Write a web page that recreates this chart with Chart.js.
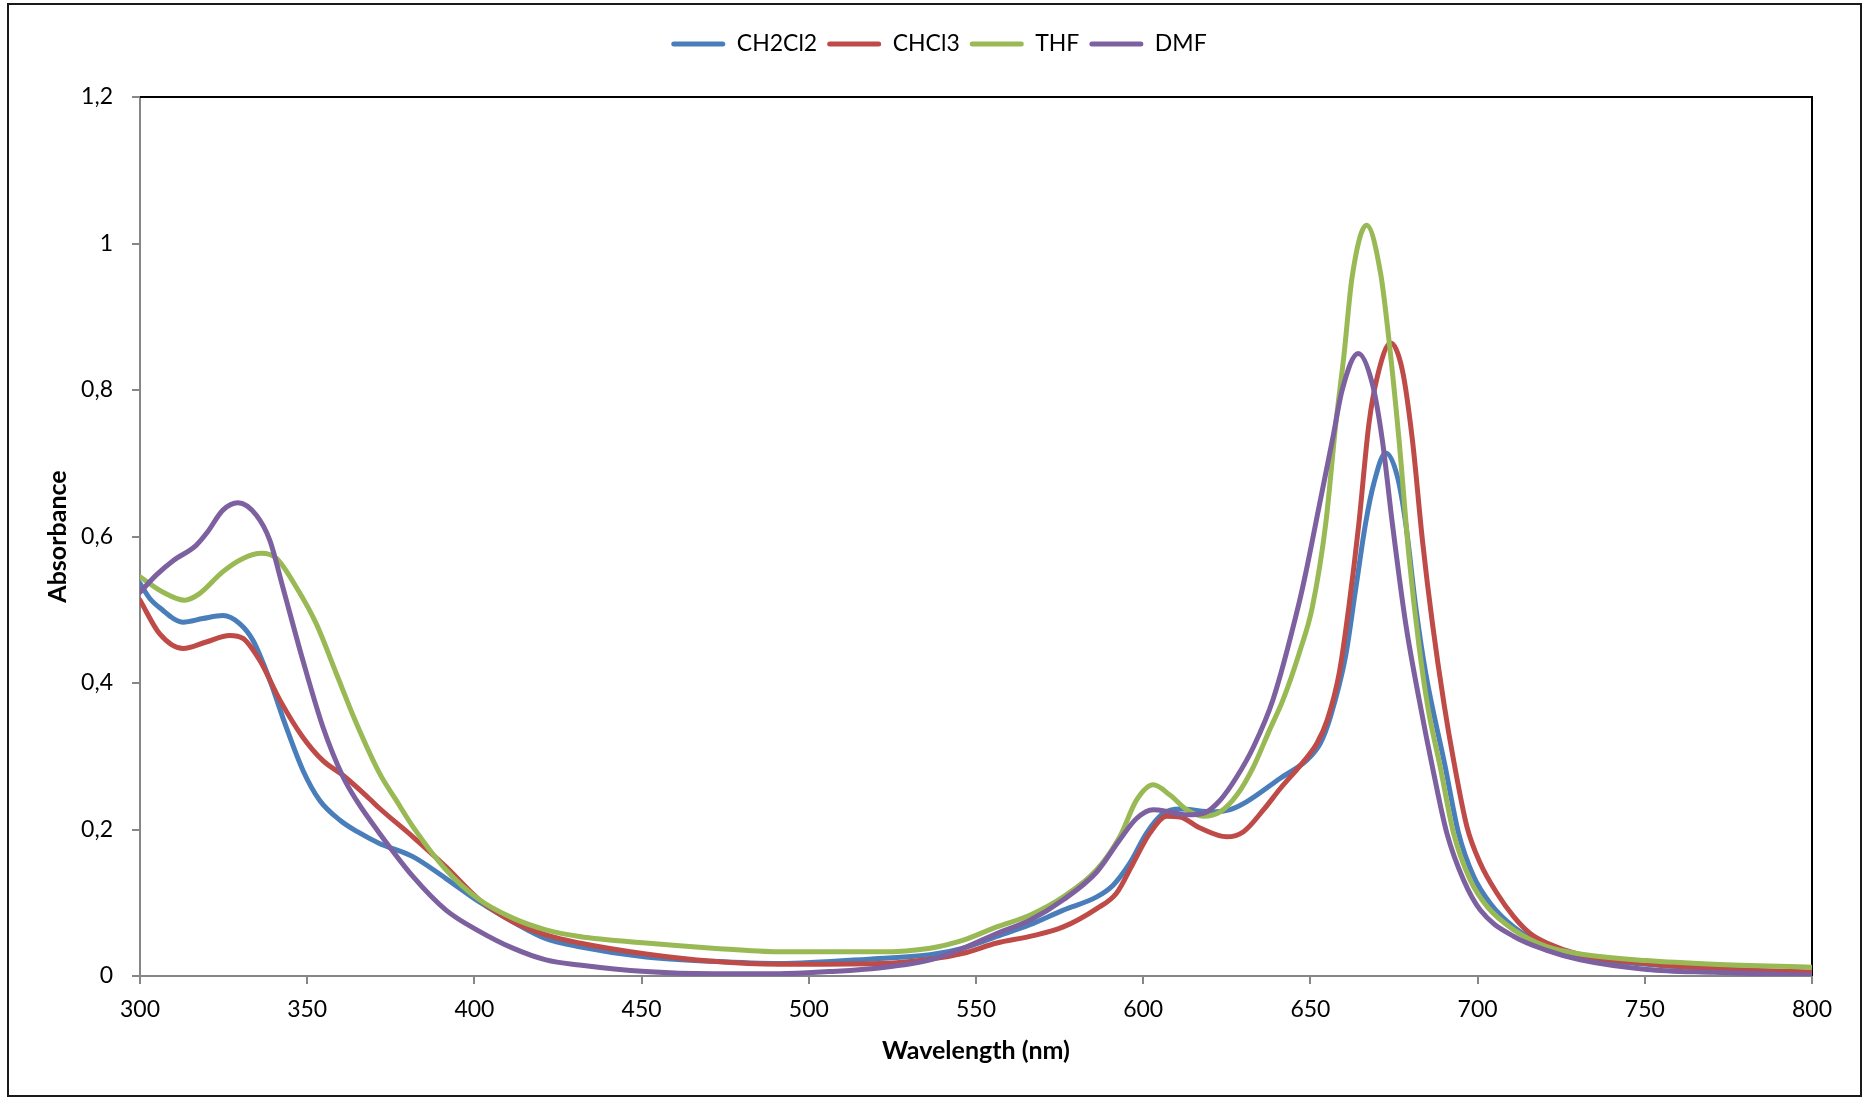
<!DOCTYPE html>
<html>
<head>
<meta charset="utf-8">
<title>Absorbance spectra in different solvents</title>
<script src="https://cdn.jsdelivr.net/npm/chart.js@4/dist/chart.umd.min.js"></script>
<style>
  html, body { margin: 0; padding: 0; background: #ffffff; }
  #wrap { width: 1865px; height: 1099px; }
</style>
</head>
<body>
<div id="wrap"><canvas id="spectra" width="1865" height="1099"></canvas></div>
<script>
// Solvent series names
const seriesNames = ['CH2Cl2', 'CHCl3', 'THF', 'DMF'];
const seriesColors = ['#4a7ebb', '#be4b48', '#98b954', '#7d60a0'];

// Axis tick labels (decimal comma)
const xTickLabels = ['300', '350', '400', '450', '500', '550', '600', '650', '700', '750', '800'];
const yTickLabels = ['0', '0,2', '0,4', '0,6', '0,8', '1', '1,2'];

// CH2Cl2: wavelength (nm) and absorbance
const ch2cl2Nm = [300, 303, 306.9, 310, 312.9, 318.8, 324.8, 329.8, 333.8, 338.8, 343.7, 348.7, 353.7, 360, 365,
  371.6, 381.6, 391.5, 401.5, 411.5, 421.4, 431.4, 451.3, 471.2, 491.1, 521, 536.3, 546.2, 556.2, 566.1, 576.1,
  586.1, 591, 596, 601, 606, 611, 621, 626, 631, 641, 649, 653, 656, 660.5, 663.5, 666.5, 669, 672.5, 676,
  678.5, 681.5, 684.5, 690.3, 694.3, 698.8, 703.8, 710.8, 720.7, 730.7, 750.6, 770.5, 800];
const ch2cl2Abs = [0.536, 0.515, 0.499, 0.488, 0.483, 0.488, 0.492, 0.481, 0.458, 0.404, 0.340, 0.281, 0.240, 0.212, 0.197,
  0.181, 0.163, 0.133, 0.101, 0.074, 0.051, 0.040, 0.026, 0.020, 0.017, 0.024, 0.029, 0.038, 0.054, 0.070, 0.090,
  0.108, 0.124, 0.154, 0.195, 0.222, 0.228, 0.224, 0.227, 0.238, 0.270, 0.295, 0.318, 0.354, 0.436, 0.527, 0.618, 0.673, 0.714, 0.682,
  0.618, 0.504, 0.413, 0.286, 0.195, 0.136, 0.099, 0.067, 0.040, 0.026, 0.016, 0.010, 0.005];

// CHCl3
const chcl3Nm = [300, 305.9, 312.9, 319.8, 326.8, 330.8, 335.8, 341.8, 348.7, 354.7, 360.7, 368.6, 371.6, 381.6, 391.5,
  401.5, 411.5, 421.4, 431.4, 451.3, 471.2, 491.1, 521, 536.3, 546.2, 556.2, 566.1, 576.1, 586.1, 592, 597, 602,
  607, 611, 617, 625, 630, 636, 641, 648, 652, 655, 658.6, 661.5, 664.5, 667.5, 670, 674, 677.5, 680.5, 683.5,
  686.5, 690, 692.8, 696.8, 700.8, 705.8, 710.8, 715.7, 720.7, 730.7, 750.6, 770.5, 800];
const chcl3Abs = [0.513, 0.467, 0.447, 0.456, 0.465, 0.461, 0.431, 0.377, 0.326, 0.294, 0.274, 0.242, 0.229, 0.190, 0.149,
  0.104, 0.074, 0.056, 0.045, 0.030, 0.020, 0.016, 0.017, 0.023, 0.031, 0.045, 0.054, 0.067, 0.092, 0.113, 0.154, 0.195,
  0.218, 0.217, 0.202, 0.190, 0.197, 0.227, 0.256, 0.293, 0.318, 0.349, 0.413, 0.504, 0.618, 0.754, 0.818, 0.864, 0.827, 0.732, 0.595,
  0.481, 0.370, 0.295, 0.204, 0.154, 0.113, 0.081, 0.058, 0.045, 0.029, 0.017, 0.010, 0.005];

// THF
const thfNm = [300, 306.9, 313.4, 317.8, 324.8, 330.8, 336.3, 340.8, 346.7, 352.7, 358.7, 364.7, 371.6, 376.6, 381.6,
  391.5, 401.5, 411.5, 421.4, 431.4, 451.3, 471.2, 491.1, 521, 536.3, 546.2, 556.2, 566.1, 576.1, 586.1, 593, 598,
  603, 608, 613, 618, 623, 628, 633, 637.8, 641.8, 646.6, 650.6, 654.6, 657.6, 660, 662.5, 666.8, 671, 673.5,
  676.5, 679.5, 682.5, 685.2, 688.8, 692.8, 697.8, 702.8, 710.8, 720.7, 730.7, 750.6, 770.5, 800];
const thfAbs = [0.545, 0.524, 0.513, 0.522, 0.552, 0.570, 0.577, 0.570, 0.531, 0.481, 0.413, 0.345, 0.277, 0.240, 0.204,
  0.145, 0.104, 0.079, 0.063, 0.054, 0.045, 0.038, 0.033, 0.033, 0.038, 0.049, 0.067, 0.083, 0.108, 0.145, 0.190, 0.240,
  0.261, 0.247, 0.227, 0.218, 0.224, 0.247, 0.286, 0.336, 0.377, 0.440, 0.504, 0.618, 0.754, 0.846, 0.955, 1.025, 0.959, 0.868,
  0.732, 0.572, 0.450, 0.365, 0.286, 0.195, 0.131, 0.095, 0.063, 0.040, 0.030, 0.021, 0.016, 0.012];

// DMF
const dmfNm = [300, 305, 309.9, 316.8, 320, 324.8, 329.3, 334.8, 338.8, 342.7, 348.7, 354.7, 360.7, 364.7, 371.6,
  381.6, 391.5, 401.5, 411.5, 421.4, 431.4, 451.3, 471.2, 491.1, 506, 521, 536.3, 546.2, 556.2, 566.1, 576.1,
  586.1, 593, 598, 603, 608, 613, 618, 623, 628, 633, 638.8, 646.6, 648.6, 652.6, 656.6, 659.5, 664.3, 668.5,
  671.5, 674.5, 678.5, 682.5, 686.9, 690.8, 695.8, 700.8, 710.8, 720.7, 730.7, 750.6, 770.5, 800];
const dmfAbs = [0.524, 0.548, 0.567, 0.588, 0.605, 0.636, 0.646, 0.629, 0.595, 0.531, 0.431, 0.340, 0.272, 0.240, 0.195,
  0.136, 0.090, 0.061, 0.038, 0.022, 0.015, 0.006, 0.003, 0.003, 0.006, 0.011, 0.022, 0.038, 0.058, 0.076, 0.104,
  0.142, 0.186, 0.215, 0.227, 0.224, 0.220, 0.222, 0.240, 0.272, 0.313, 0.377, 0.509, 0.550, 0.641, 0.732, 0.800, 0.850, 0.809,
  0.732, 0.618, 0.481, 0.378, 0.276, 0.195, 0.131, 0.090, 0.054, 0.035, 0.022, 0.009, 0.005, 0.001];

const seriesNm = [ch2cl2Nm, chcl3Nm, thfNm, dmfNm];
const seriesAbs = [ch2cl2Abs, chcl3Abs, thfAbs, dmfAbs];

const FONT = 'Lato, "Liberation Sans", Arial, sans-serif';
const AXIS_GREY = '#868686';

const datasets = seriesNames.map((name, i) => ({
  label: name,
  data: seriesNm[i].map((x, k) => ({ x: x, y: seriesAbs[i][k] })),
  borderColor: seriesColors[i],
  backgroundColor: seriesColors[i],
  borderWidth: 5,
  pointRadius: 0,
  pointHoverRadius: 0,
  fill: false,
  cubicInterpolationMode: 'monotone',
  borderCapStyle: 'round',
  borderJoinStyle: 'round',
  xAxisID: 'x',
  yAxisID: 'y',
  // later series drawn on top
  order: seriesNames.length - 1 - i
}));

// Frame lines: outer chart border and the black top/right edges of the plot area
const framePlugin = {
  id: 'frame',
  beforeDatasetsDraw(chart) {
    const { ctx, chartArea } = chart;
    ctx.save();
    ctx.strokeStyle = '#000000';
    ctx.lineWidth = 2;
    ctx.beginPath();
    ctx.moveTo(chartArea.left, chartArea.top);
    ctx.lineTo(chartArea.right, chartArea.top);
    ctx.lineTo(chartArea.right, chartArea.bottom);
    ctx.stroke();
    ctx.restore();
  },
  afterDraw(chart) {
    const { ctx } = chart;
    ctx.save();
    ctx.strokeStyle = '#1a1a1a';
    ctx.lineWidth = 2;
    ctx.strokeRect(8, 4, 1853, 1092);
    ctx.restore();
  }
};

new Chart(document.getElementById('spectra'), {
  type: 'line',
  data: { datasets: datasets },
  plugins: [framePlugin],
  options: {
    responsive: false,
    animation: false,
    devicePixelRatio: 1,
    events: [],
    layout: { padding: { left: 66, right: 53, top: 22.5, bottom: 0 } },
    plugins: {
      tooltip: { enabled: false },
      legend: {
        display: true,
        position: 'top',
        align: 'center',
        labels: {
          color: '#000000',
          font: { family: FONT, size: 23 },
          boxWidth: 54,
          boxHeight: 5,
          padding: 10,
          generateLabels(chart) {
            return chart.data.datasets.map((ds, i) => ({
              text: ds.label,
              fillStyle: ds.borderColor,
              strokeStyle: ds.borderColor,
              lineWidth: 0,
              borderRadius: 2.5,
              fontColor: '#000000',
              hidden: false,
              datasetIndex: i
            }));
          }
        }
      }
    },
    scales: {
      x: {
        type: 'linear',
        position: 'bottom',
        min: 300,
        max: 800,
        afterFit(scale) { scale.height = 123; },
        border: { display: true, color: AXIS_GREY, width: 2 },
        grid: { display: true, drawOnChartArea: false, drawTicks: true, tickLength: 8, color: AXIS_GREY, lineWidth: 2 },
        ticks: {
          stepSize: 50,
          color: '#000000',
          font: { family: FONT, size: 23 },
          padding: 12,
          maxRotation: 0,
          autoSkip: false,
          callback: (value, index) => xTickLabels[index]
        },
        title: {
          display: true,
          text: 'Wavelength (nm)',
          color: '#000000',
          font: { family: FONT, size: 25, weight: 'bold' },
          padding: { top: 0, bottom: 33 }
        }
      },
      y: {
        type: 'linear',
        position: 'left',
        min: 0,
        max: 1.2,
        afterFit(scale) { scale.width = 74; },
        border: { display: true, color: AXIS_GREY, width: 2 },
        grid: { display: true, drawOnChartArea: false, drawTicks: true, tickLength: 8, color: AXIS_GREY, lineWidth: 2 },
        ticks: {
          stepSize: 0.2,
          color: '#000000',
          font: { family: FONT, size: 23 },
          padding: 19,
          autoSkip: false,
          callback: (value, index) => yTickLabels[index]
        },
        title: {
          display: true,
          text: 'Absorbance',
          color: '#000000',
          font: { family: FONT, size: 25, weight: 'bold' },
          padding: { top: -23, bottom: 0 }
        }
      },
      // empty band between the legend and the plot area
      gap: {
        type: 'linear',
        position: 'top',
        display: true,
        afterFit(scale) { scale.height = 31.5; },
        border: { display: false },
        grid: { display: false, drawTicks: false },
        ticks: { display: false }
      }
    }
  }
});
</script>
</body>
</html>
